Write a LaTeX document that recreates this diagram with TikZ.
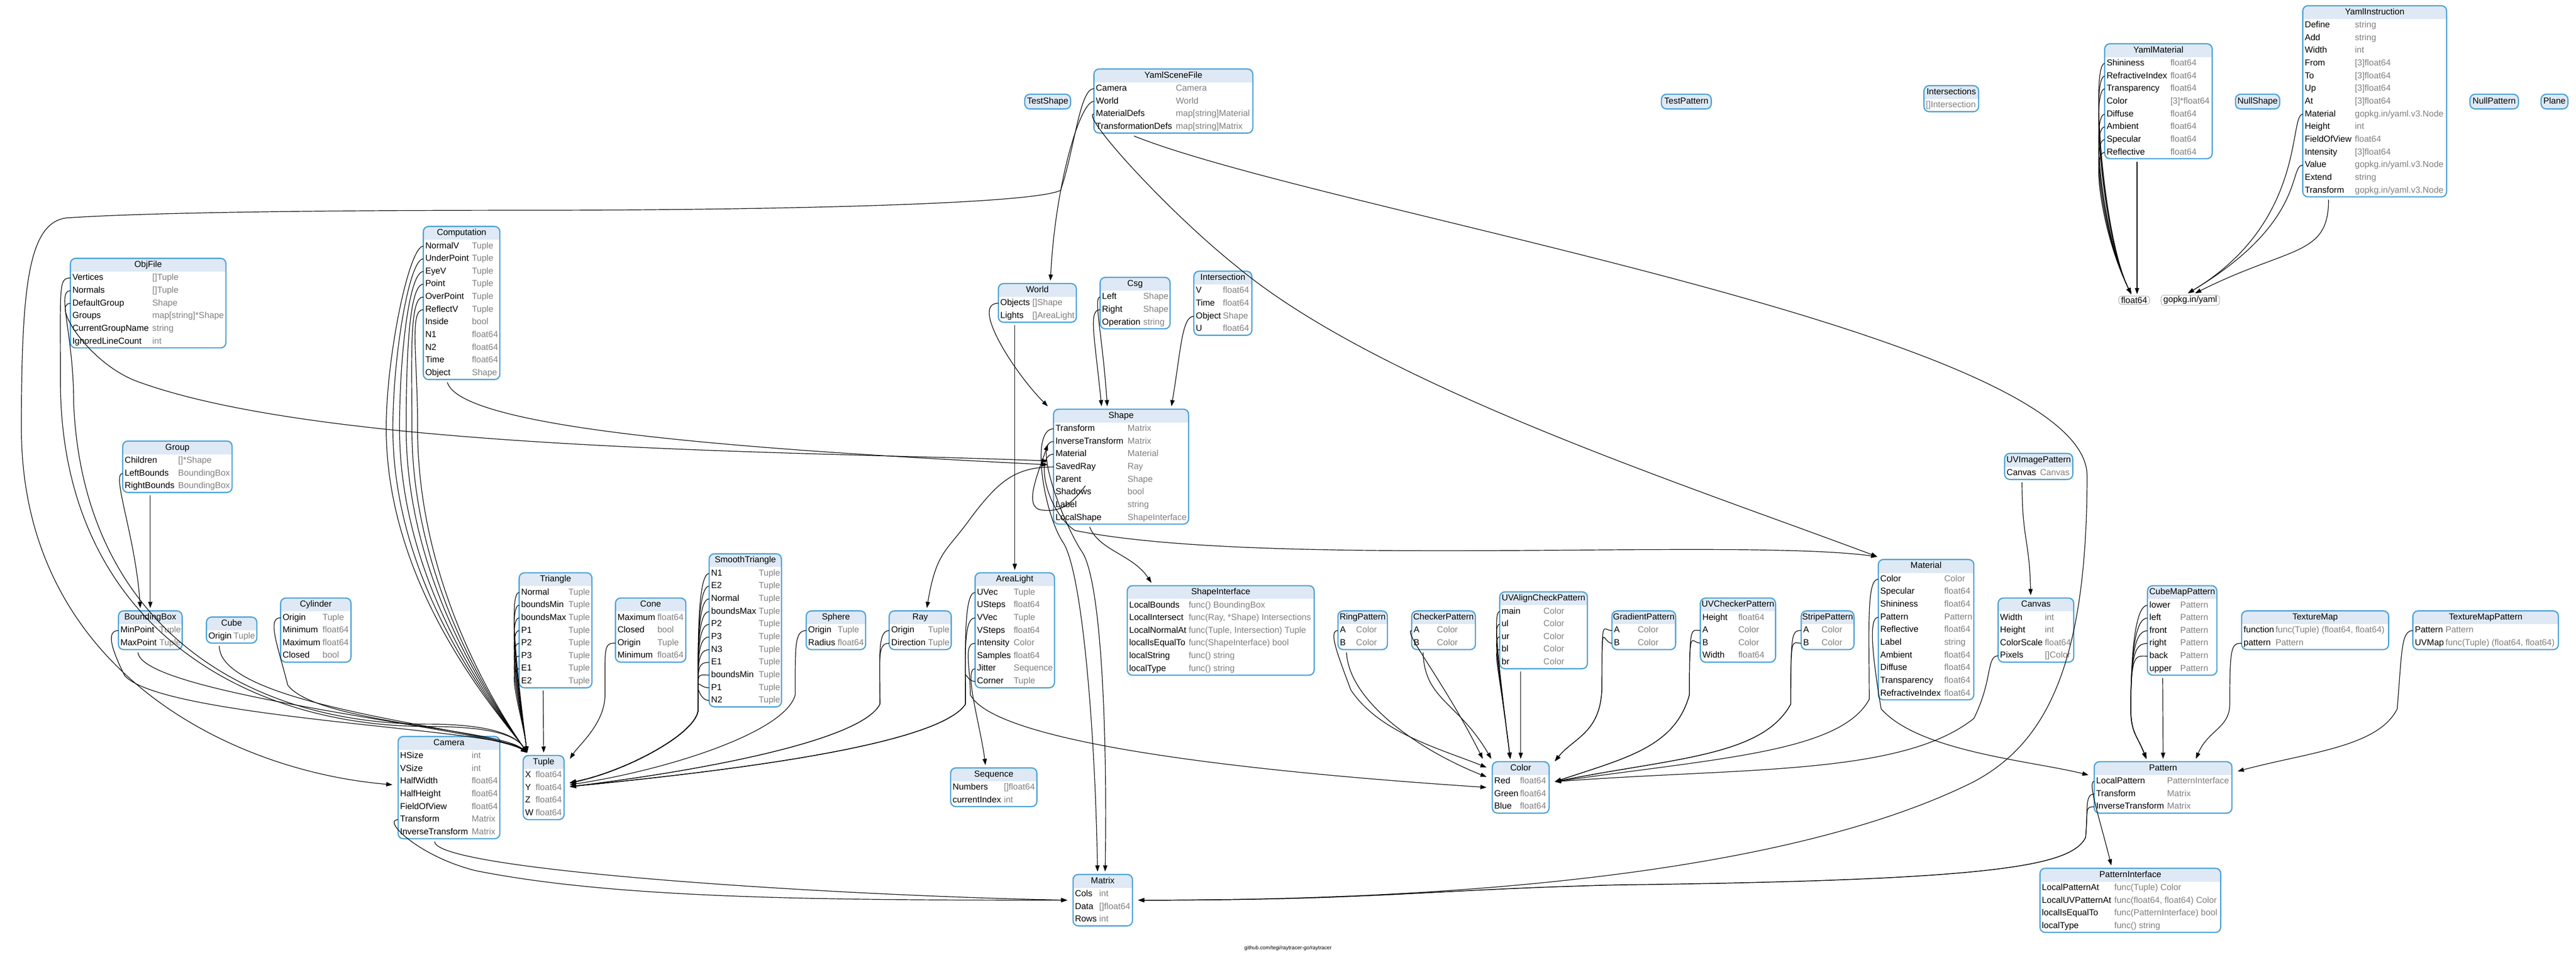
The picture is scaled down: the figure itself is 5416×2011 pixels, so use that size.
\documentclass[tikz,border=0pt]{standalone}
\usepackage{fontspec}
\setmainfont{Liberation Sans}
\usetikzlibrary{arrows.meta,positioning}

\definecolor{hdrblue}{RGB}{222,233,245}
\definecolor{rimblue}{RGB}{78,163,214}
\definecolor{typegray}{RGB}{128,128,128}
\newcommand{\gofont}{\fontsize{18.3}{22}\selectfont}

\tikzset{
  structbox/.style={draw=rimblue, line width=2.6pt, rounded corners=11pt, inner sep=0pt, outer xsep=12pt, outer ysep=6pt},
  leafbox/.style={structbox, fill=hdrblue, minimum height=31pt, font=\gofont, text height=13.5pt, text depth=4pt},
  plainbox/.style={draw=gray!70, line width=1pt, rounded corners=6pt, inner xsep=5pt, inner ysep=2pt, font=\gofont, outer sep=4pt},
  structtitle/.style={font=\gofont, inner sep=0pt, text height=13.5pt, text depth=4pt},
  fieldname/.style={font=\gofont, anchor=west, inner xsep=4pt, inner ysep=0pt, text height=13.5pt, text depth=4pt},
  fieldtype/.style={font=\gofont, anchor=west, inner sep=0pt, text=typegray, text height=13.5pt, text depth=4pt},
  link/.style={line width=1.3pt, -{Triangle[length=13pt,width=9pt]}},
}

% #1 name, #2 left, #3 top, #4 right, #5 x of type column, #6 title, #7 fields
\newcommand{\gostruct}[7]{%
  \foreach \f/\t [count=\n] in {#7} {\xdef\gorows{\n}}%
  \pgfmathsetmacro{\gobot}{#3+28+\gorows*26.7}%
  \begin{scope}
    \clip[rounded corners=11pt] (#2,#3) rectangle (#4,\gobot);
    \fill[hdrblue] (#2,#3) rectangle (#4,#3+28);
  \end{scope}
  \node[structtitle] (#1-hd) at ({(#2+#4)/2},#3+14) {#6};
  \foreach \f/\t [count=\i] in {#7} {
    \node[fieldname] (#1-\f) at (#2,{#3+28+(\i-0.5)*26.7}) {\f};
    \node[fieldtype] (#1-\f-t) at (#5,{#3+28+(\i-0.5)*26.7}) {\t};
  }
  \node[structbox, minimum width={#4-#2}, minimum height={\gobot-#3}] (#1) at ({(#2+#4)/2},{(#3+\gobot)/2}) {};
}
% box with a title only
\newcommand{\goleaf}[5]{%
  \node[leafbox, minimum width={#4-#2}] (#1) at ({(#2+#4)/2},#3+15.5) {#5};
}

\begin{document}
\begin{tikzpicture}[x=1pt, y=-1pt]
\useasboundingbox (0,0) rectangle (5416,2011);

% Structs, top row
\goleaf{testshape}{2154.5}{198}{2251}{TestShape}
\gostruct{yamlscenefile}{2300}{145}{2634}{2472}{YamlSceneFile}{Camera/Camera, World/World, MaterialDefs/{map[string]Material}, TransformationDefs/{map[string]Matrix}}
\goleaf{testpattern}{3493}{198}{3598}{TestPattern}
\gostruct{intersections}{4045}{180}{4160}{4049}{Intersections}{{}/{[]Intersection}}
\gostruct{yamlmaterial}{4425}{92}{4651}{4563}{YamlMaterial}{Shininess/float64, RefractiveIndex/float64, Transparency/float64, Color/{[3]*float64}, Diffuse/float64, Ambient/float64, Specular/float64, Reflective/float64}
\goleaf{nullshape}{4700}{198}{4793}{NullShape}
\gostruct{yamlinstruction}{4841.5}{12}{5144}{4951}{YamlInstruction}{Define/string, Add/string, Width/int, From/{[3]float64}, To/{[3]float64}, Up/{[3]float64}, At/{[3]float64}, Material/{gopkg.in/yaml.v3.Node}, Height/int, FieldOfView/float64, Intensity/{[3]float64}, Value/{gopkg.in/yaml.v3.Node}, Extend/string, Transform/{gopkg.in/yaml.v3.Node}}
\goleaf{nullpattern}{5193}{198}{5295}{NullPattern}
\goleaf{plane}{5342.5}{198}{5399}{Plane}
\node[plainbox] (float64) at (4487,631) {float64};
\node[plainbox] (yamlpkg) at (4605,631) {gopkg.in/yaml};

% Structs, middle
\gostruct{objfile}{148}{543}{475}{320}{ObjFile}{Vertices/{[]Tuple}, Normals/{[]Tuple}, DefaultGroup/Shape, Groups/{map[string]*Shape}, CurrentGroupName/string, IgnoredLineCount/int}
\gostruct{computation}{890}{476}{1051}{992}{Computation}{NormalV/Tuple, UnderPoint/Tuple, EyeV/Tuple, Point/Tuple, OverPoint/Tuple, ReflectV/Tuple, Inside/bool, N1/float64, N2/float64, Time/float64, Object/Shape}
\gostruct{world}{2099}{596}{2263}{2170.5}{World}{Objects/{[]Shape}, Lights/{[]AreaLight}}
\gostruct{csg}{2313}{583}{2460}{2403.6}{Csg}{Left/Shape, Right/Shape, Operation/string}
\gostruct{intersection}{2510}{570}{2632}{2571}{Intersection}{V/float64, Time/float64, Object/Shape, U/float64}
\gostruct{shape}{2215}{860}{2499}{2370.5}{Shape}{Transform/Matrix, InverseTransform/Matrix, Material/Material, SavedRay/Ray, Parent/Shape, Shadows/bool, Label/string, LocalShape/ShapeInterface}
\gostruct{group}{258}{927}{488}{374.5}{Group}{Children/{[]*Shape}, LeftBounds/BoundingBox, RightBounds/BoundingBox}
\gostruct{uvimagepattern}{4214.6}{953}{4358}{4289}{UVImagePattern}{Canvas/Canvas}

% Structs, lower row
\gostruct{boundingbox}{249}{1284}{383}{335}{BoundingBox}{MinPoint/Tuple, MaxPoint/Tuple}
\gostruct{cube}{434}{1297}{540}{491}{Cube}{Origin/Tuple}
\gostruct{cylinder}{590}{1257}{738}{678}{Cylinder}{Origin/Tuple, Minimum/float64, Maximum/float64, Closed/bool}
\gostruct{triangle}{1091.5}{1204}{1244.5}{1195}{Triangle}{Normal/Tuple, boundsMin/Tuple, boundsMax/Tuple, P1/Tuple, P2/Tuple, P3/Tuple, E1/Tuple, E2/Tuple}
\gostruct{cone}{1294}{1257}{1442}{1382}{Cone}{Maximum/float64, Closed/bool, Origin/Tuple, Minimum/float64}
\gostruct{smoothtriangle}{1491}{1164}{1643}{1595}{SmoothTriangle}{N1/Tuple, E2/Tuple, Normal/Tuple, boundsMax/Tuple, P2/Tuple, P3/Tuple, N3/Tuple, E1/Tuple, boundsMin/Tuple, P1/Tuple, N2/Tuple}
\gostruct{sphere}{1695}{1284}{1820}{1761}{Sphere}{Origin/Tuple, Radius/float64}
\gostruct{ray}{1869.5}{1284}{2000}{1951}{Ray}{Origin/Tuple, Direction/Tuple}
\gostruct{arealight}{2050}{1204}{2217}{2131}{AreaLight}{UVec/Tuple, USteps/float64, VVec/Tuple, VSteps/float64, Intensity/Color, Samples/float64, Jitter/Sequence, Corner/Tuple}
\gostruct{shapeinterface}{2370}{1231}{2763}{2499}{ShapeInterface}{LocalBounds/{func() BoundingBox}, LocalIntersect/{func(Ray, *Shape) Intersections}, LocalNormalAt/{func(Tuple, Intersection) Tuple}, localIsEqualTo/{func(ShapeInterface) bool}, localString/{func() string}, localType/{func() string}}
\gostruct{ringpattern}{2813}{1284}{2917}{2851}{RingPattern}{A/Color, B/Color}
\gostruct{checkerpattern}{2968}{1284}{3102}{3021}{CheckerPattern}{A/Color, B/Color}
\gostruct{uvaligncheckpattern}{3153}{1244}{3337.5}{3245}{UVAlignCheckPattern}{main/Color, ul/Color, ur/Color, bl/Color, br/Color}
\gostruct{gradientpattern}{3389}{1284}{3523}{3443}{GradientPattern}{A/Color, B/Color}
\gostruct{uvcheckerpattern}{3575}{1257}{3733}{3654.5}{UVCheckerPattern}{Height/float64, A/Color, B/Color, Width/float64}
\gostruct{stripepattern}{3787}{1284}{3898}{3829.5}{StripePattern}{A/Color, B/Color}
\gostruct{material}{3949}{1176}{4150}{4087.5}{Material}{Color/Color, Specular/float64, Shininess/float64, Pattern/Pattern, Reflective/float64, Label/string, Ambient/float64, Diffuse/float64, Transparency/float64, RefractiveIndex/float64}
\gostruct{canvas}{4201}{1257}{4360}{4299}{Canvas}{Width/int, Height/int, ColorScale/float64, Pixels/{[]Color}}
\gostruct{cubemappattern}{4515}{1231}{4661}{4583.6}{CubeMapPattern}{lower/Pattern, left/Pattern, front/Pattern, right/Pattern, back/Pattern, upper/Pattern}
\gostruct{texturemap}{4713}{1284}{5022}{4784}{TextureMap}{function/{func(Tuple) (float64, float64)}, pattern/Pattern}
\gostruct{texturemappattern}{5073}{1284}{5379}{5141.5}{TextureMapPattern}{Pattern/Pattern, UVMap/{func(Tuple) (float64, float64)}}

% Structs, bottom
\gostruct{camera}{837}{1548}{1051}{991.5}{Camera}{HSize/int, VSize/int, HalfWidth/float64, HalfHeight/float64, FieldOfView/float64, Transform/Matrix, InverseTransform/Matrix}
\gostruct{tuple}{1100}{1588}{1186}{1126}{Tuple}{X/float64, Y/float64, Z/float64, W/float64}
\gostruct{sequence}{1998.7}{1614}{2180}{2110.5}{Sequence}{Numbers/{[]float64}, currentIndex/int}
\gostruct{matrix}{2256}{1838}{2381}{2311}{Matrix}{Cols/int, Data/{[]float64}, Rows/int}
\gostruct{color}{3137.5}{1601}{3257}{3195.5}{Color}{Red/float64, Green/float64, Blue/float64}
\gostruct{pattern}{4403}{1601}{4692.6}{4556}{Pattern}{LocalPattern/PatternInterface, Transform/Matrix, InverseTransform/Matrix}
\gostruct{patterninterface}{4289}{1825}{4669}{4445}{PatternInterface}{LocalPatternAt/{func(Tuple) Color}, LocalUVPatternAt/{func(float64, float64) Color}, localIsEqualTo/{func(PatternInterface) bool}, localType/{func() string}}

\node[font=\fontsize{11}{13}\selectfont] (footer) at (2708,1993) {github.com/tegi/raytracer-go/raytracer};

% YamlSceneFile links
\draw[link] (yamlscenefile-Camera.west) .. controls +(-30,0) and +(30,-90) .. (2230,400) .. controls +(-60,30) and +(500,0) .. (1100,442) .. controls +(-500,0) and +(150,-10) .. (140,458) .. controls +(-80,10) and +(0,-300) .. (45,900) .. controls +(0,500) and +(-350,-30) .. ([yshift=6pt]camera.west);
\draw[link] (yamlscenefile-World.west) .. controls +(-30,0) and +(10,-200) .. ([xshift=27.5pt]world.north);
\draw[link] (yamlscenefile-MaterialDefs.west) .. controls +(-30,0) and +(-150,-120) .. (2600,560) .. controls +(300,250) and +(-400,-150) .. ([xshift=10pt]material.north west);
\draw[link] ([xshift=-83pt]yamlscenefile.south) .. controls +(400,160) and +(0,-300) .. (4388,1000) .. controls +(0,400) and +(150,-80) .. (4150,1643) .. controls +(-300,150) and +(900,0) .. (matrix.east);

% YamlMaterial and YamlInstruction links
\foreach \f in {Shininess, RefractiveIndex, Transparency, Diffuse, Ambient, Specular, Reflective}
  \draw[link] (yamlmaterial-\f.west) .. controls +(-30,0) and +(-60,-120) .. ([xshift=-6pt]float64.north);
\draw[link] ([xshift=-45pt]yamlmaterial.south) -- ([xshift=6pt]float64.north);
\foreach \f in {Material, Value}
  \draw[link] (yamlinstruction-\f.west) .. controls +(-30,0) and +(250,-150) .. ([xshift=-5pt]yamlpkg.north);
\draw[link] ([xshift=-97pt]yamlinstruction.south) .. controls +(0,120) and +(200,-100) .. ([xshift=10pt]yamlpkg.north);

% ObjFile and Computation links
\draw[link] (objfile-Vertices.west) .. controls +(-25,0) and +(0,-200) .. (127,800) .. controls +(0,500) and +(-400,0) .. (900,1527) .. controls +(120,0) and +(-25,-40) .. ([xshift=-35pt]tuple.north);
\draw[link] (objfile-Normals.west) .. controls +(-30,0) and +(0,-150) .. (155,850) .. controls +(20,450) and +(-400,0) .. (900,1522) .. controls +(120,0) and +(-25,-40) .. ([xshift=-35pt]tuple.north);
\draw[link] (objfile-DefaultGroup.west) .. controls +(-40,0) and +(-100,-40) .. (284,800) .. controls +(400,150) and +(-500,-20) .. ([yshift=12pt]shape.west);
\foreach \f/\cx in {NormalV/812, UnderPoint/826, EyeV/840, Point/854, OverPoint/866, ReflectV/878}
  \draw[link] (computation-\f.west) .. controls +(-30,0) and +(0,-150) .. (\cx,900) .. controls +(0,350) and +(-40,-60) .. ([xshift=-35pt]tuple.north);
\draw[link] ([xshift=-30pt]computation.south) .. controls +(30,100) and +(-600,-30) .. ([yshift=4pt]shape.west);

% Group, BoundingBox, Cube, Cylinder links
\draw[link] (group-LeftBounds.west) .. controls +(-25,0) and +(-10,-150) .. ([xshift=-21pt]boundingbox.north);
\draw[link] ([xshift=-57pt]group.south) -- (boundingbox.north);
\draw[link] (boundingbox-MinPoint.west) .. controls +(-25,0) and +(-30,-60) .. (262,1420) .. controls +(80,90) and +(-60,-50) .. ([xshift=-35pt]tuple.north);
\draw[link] ([xshift=-26pt]boundingbox.south) .. controls +(10,90) and +(-80,-50) .. ([xshift=-35pt]tuple.north);
\draw[link] ([xshift=-26pt]cube.south) .. controls +(0,130) and +(-70,-50) .. ([xshift=-35pt]tuple.north);
\draw[link] (cylinder-Origin.west) .. controls +(-30,0) and +(-20,-80) .. (605,1440) .. controls +(60,80) and +(-60,-50) .. ([xshift=-35pt]tuple.north);

% Triangle, Cone, SmoothTriangle, Sphere, Ray links
\foreach \f in {Normal, boundsMin, boundsMax, P1, P2, P3, E1}
  \draw[link] (triangle-\f.west) .. controls +(-28,0) and +(-8,-70) .. ([xshift=-35pt]tuple.north);
\draw[link] ([xshift=-26pt]triangle.south) -- (tuple.north);
\draw[link] (cone-Origin.west) .. controls +(-25,0) and +(0,-100) .. (1272,1460) .. controls +(0,60) and +(20,-30) .. ([yshift=-13pt]tuple.north east);
\foreach \f in {N1, E2, Normal, boundsMax, P2, P3, N3, E1, boundsMin, P1, N2}
  \draw[link] (smoothtriangle-\f.west) .. controls +(-28,0) and +(0,-80) .. (1468,1490) .. controls +(0,50) and +(120,-25) .. ([yshift=10pt]tuple.east);
\draw[link] (sphere-Origin.west) .. controls +(-25,0) and +(0,-100) .. (1672,1460) .. controls +(-20,80) and +(200,-30) .. ([yshift=6pt]tuple.east);
\foreach \f in {Origin, Direction}
  \draw[link] (ray-\f.west) .. controls +(-25,0) and +(0,-100) .. (1850,1480) .. controls +(-40,80) and +(250,-30) .. ([yshift=2pt]tuple.east);

% AreaLight links
\foreach \f in {UVec, VVec, Corner}
  \draw[link] (arealight-\f.west) .. controls +(-25,0) and +(0,-100) .. (2030,1480) .. controls +(-60,90) and +(300,-30) .. ([yshift=2pt]tuple.east);
\draw[link] (arealight-Intensity.west) .. controls +(-25,0) and +(0,-60) .. (2040,1460) .. controls +(60,120) and +(-300,-20) .. (color.west);
\draw[link] (arealight-Jitter.west) .. controls +(-25,0) and +(-10,-80) .. ([xshift=-17.5pt]sequence.north);

% World, Csg, Intersection links
\draw[link] (world-Objects.west) .. controls +(-60,0) and +(-70,-70) .. (shape.north west);
\draw[link] ([xshift=-47.5pt]world.south) -- (arealight.north);
\draw[link] (csg-Left.west) .. controls +(-15,0) and +(-10,-150) .. ([xshift=-29pt]shape.north);
\draw[link] (csg-Right.west) .. controls +(-25,0) and +(-15,-150) .. ([xshift=-41pt]shape.north);
\draw[link] (intersection-Object.west) .. controls +(-25,0) and +(20,-120) .. ([xshift=106pt]shape.north);

% Shape links
\draw[link] (shape-Transform.west) .. controls +(-50,0) and +(-40,-60) .. (2235,1140) .. controls +(40,60) and +(-5,-300) .. ([xshift=-11pt]matrix.north);
\draw[link] (shape-InverseTransform.west) .. controls +(-45,0) and +(-40,-60) .. (2275,1160) .. controls +(40,60) and +(5,-300) .. ([xshift=5pt]matrix.north);
\draw[link] (shape-Material.west) .. controls +(-40,0) and +(-60,-40) .. (2260,1115) .. controls +(400,80) and +(-300,-40) .. ([xshift=10pt]material.north west);
\draw[link] (shape-SavedRay.west) .. controls +(-80,0) and +(60,-80) .. (2040,1090) .. controls +(-50,70) and +(20,-120) .. ([xshift=14pt]ray.north);
\draw[link] ([xshift=67pt,yshift=14pt]shape-Shadows.west) .. controls +(-30,40) and +(40,5) .. (2190,1072) .. controls +(-40,-5) and +(-20,60) .. ([yshift=47pt]shape.west);
\draw[link] ([xshift=-66pt]shape.south) .. controls +(20,50) and +(-40,-60) .. ([xshift=-145.5pt]shapeinterface.north);

% Colour links
\draw[link] (ringpattern-A.west) .. controls +(-20,0) and +(-30,-80) .. (2840,1450) .. controls +(60,90) and +(-100,-40) .. ([yshift=42pt]color.west);
\draw[link] ([xshift=-34pt]ringpattern.south) .. controls +(5,100) and +(-150,-60) .. ([yshift=22pt]color.west);
\draw[link] (checkerpattern-A.west) .. controls +(-20,0) and +(-80,-160) .. ([xshift=-8pt]color.north west);
\draw[link] ([xshift=-43pt]checkerpattern.south) .. controls +(3,100) and +(-70,-120) .. ([xshift=10pt]color.north west);
\foreach \f in {main, ul, ur, bl}
  \draw[link] (uvaligncheckpattern-\f.west) .. controls +(-15,0) and +(-25,-200) .. ([xshift=-22pt]color.north);
\draw[link] ([xshift=-48pt]uvaligncheckpattern.south) -- (color.north);
\foreach \f in {A, B}
  \draw[link] (gradientpattern-\f.west) .. controls +(-20,0) and +(0,-150) .. (3368,1440) .. controls +(0,100) and +(40,-50) .. ([yshift=55pt]color.east);
\foreach \f in {A, B}
  \draw[link] (uvcheckerpattern-\f.west) .. controls +(-20,0) and +(0,-150) .. (3552,1460) .. controls +(-30,110) and +(150,-50) .. ([yshift=12pt]color.east);
\foreach \f in {A, B}
  \draw[link] (stripepattern-\f.west) .. controls +(-20,0) and +(0,-150) .. (3765,1480) .. controls +(-60,110) and +(250,-50) .. ([yshift=12pt]color.east);
\draw[link] (material-Color.west) .. controls +(-25,0) and +(0,-150) .. (3930,1470) .. controls +(-60,110) and +(350,-50) .. ([yshift=12pt]color.east);
\draw[link] (canvas-Pixels.west) .. controls +(-25,0) and +(40,-80) .. (4150,1510) .. controls +(-150,120) and +(400,-30) .. ([yshift=12pt]color.east);

% Pattern links
\draw[link] (material-Pattern.west) .. controls +(-20,0) and +(-20,-120) .. (3955,1490) .. controls +(80,90) and +(-120,-30) .. ([yshift=26pt]pattern.west);
\foreach \f in {lower, left, front, right, back}
  \draw[link] (cubemappattern-\f.west) .. controls +(-25,0) and +(0,-120) .. (4480,1490) .. controls +(0,50) and +(-20,-50) .. ([xshift=-35pt]pattern.north);
\draw[link] ([xshift=-41pt]cubemappattern.south) -- (pattern.north);
\draw[link] (texturemap-pattern.west) .. controls +(-22,0) and +(0,-120) .. (4688,1480) .. controls +(0,50) and +(25,-60) .. ([xshift=69pt]pattern.north);
\draw[link] (texturemappattern-Pattern.west) .. controls +(-25,0) and +(10,-120) .. (5040,1490) .. controls +(-40,80) and +(150,-40) .. ([yshift=34pt]pattern.east);
\draw[link] (pattern-LocalPattern.west) .. controls +(-15,0) and +(-25,-100) .. ([xshift=-40pt]patterninterface.north);
\foreach \f in {Transform, InverseTransform}
  \draw[link] (pattern-\f.west) .. controls +(-20,0) and +(5,-60) .. (4385,1760) .. controls +(-30,60) and +(800,-10) .. (3400,1860) .. controls +(-400,10) and +(500,0) .. (matrix.east);
\draw[link] ([xshift=-35pt]uvimagepattern.south) .. controls +(0,120) and +(-3,-120) .. ([xshift=-11pt]canvas.north);

% Camera links
\draw[link] (camera-Transform.west) .. controls +(-35,0) and +(-120,-30) .. (1000,1830) .. controls +(300,60) and +(-500,0) .. (matrix.west);
\draw[link] ([xshift=-30pt]camera.south) .. controls +(0,60) and +(-500,-10) .. (matrix.west);

\end{tikzpicture}
\end{document}
